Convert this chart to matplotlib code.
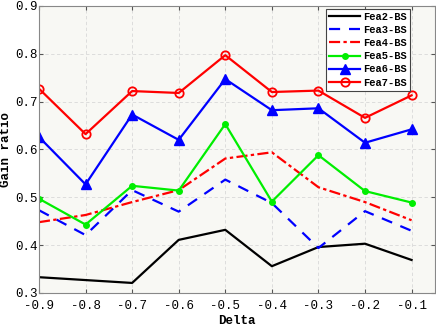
import matplotlib
matplotlib.use("Agg")
import matplotlib.pyplot as plt

plt.rcParams['font.family'] = ['Liberation Mono', 'DejaVu Sans Mono']

delta = [-0.9, -0.8, -0.7, -0.6, -0.5, -0.4, -0.3, -0.2, -0.1]

fea2 = [0.333, 0.327, 0.321, 0.411, 0.432, 0.356, 0.396, 0.403, 0.369]
fea3 = [0.473, 0.421, 0.515, 0.470, 0.537, 0.488, 0.394, 0.471, 0.430]
fea4 = [0.448, 0.463, 0.490, 0.515, 0.581, 0.594, 0.521, 0.490, 0.452]
fea5 = [0.497, 0.443, 0.524, 0.514, 0.653, 0.491, 0.588, 0.513, 0.489]
fea6 = [0.626, 0.527, 0.673, 0.620, 0.747, 0.682, 0.686, 0.614, 0.642]
fea7 = [0.727, 0.632, 0.722, 0.718, 0.797, 0.720, 0.723, 0.666, 0.713]

xticks = [-0.9, -0.8, -0.7, -0.6, -0.5, -0.4, -0.3, -0.2, -0.1]
yticks = [0.3, 0.4, 0.5, 0.6, 0.7, 0.8, 0.9]

fig = plt.figure(figsize=(4.36, 3.27), dpi=100)
ax = fig.add_axes([0.0894, 0.104, 0.908, 0.878])
ax.set_facecolor('#f8f8f4')

ax.plot(delta, fea2, color='black', lw=1.6, label='Fea2-BS')
ax.plot(delta, fea3, color='#0000ff', lw=1.6, ls=(0, (5, 4)), label='Fea3-BS')
ax.plot(delta, fea4, color='#ff0000', lw=1.6, ls=(0, (5, 1.5, 1.5, 1.5)), label='Fea4-BS')
ax.plot(delta, fea5, color='#00ee00', lw=1.6, marker='o', ms=4, label='Fea5-BS')
ax.plot(delta, fea6, color='#0000ff', lw=1.6, marker='^', ms=6.5, label='Fea6-BS')
ax.plot(delta, fea7, color='#ff0000', lw=1.6, marker='o', ms=6, mfc='none', mew=1.3, label='Fea7-BS')

ax.set_xlim(-0.9, -0.05)
ax.set_ylim(0.3, 0.9)
ax.set_xticks(xticks)
ax.set_yticks(yticks)
ax.set_xticklabels(['%.1f' % v for v in xticks])
ax.set_yticklabels(['%.1f' % v for v in yticks])
ax.tick_params(direction='in', top=True, right=True, labelsize=9, length=3, color='#555555')
ax.tick_params(axis='y', pad=1)
ax.tick_params(axis='x', pad=5)
ax.grid(True, ls=(0, (4, 3)), color='#d8d8d8', lw=0.6)
for s in ax.spines.values():
    s.set_color('#888888')

ax.set_xlabel('Delta', fontsize=9, fontweight='bold', labelpad=2)
ax.set_ylabel('Gain ratio', fontsize=9, fontweight='bold')
ax.yaxis.set_label_coords(-0.068, 0.5)

leg = ax.legend(loc='upper right', bbox_to_anchor=(0.938, 0.99), prop={'size': 7.5, 'weight': 'bold'},
                handlelength=3.0, borderpad=0.3, labelspacing=0.3, handletextpad=0.3,
                borderaxespad=0, fancybox=False, framealpha=1, edgecolor='#444444')
leg.get_frame().set_linewidth(0.8)

fig.savefig('out.png', dpi=100)
